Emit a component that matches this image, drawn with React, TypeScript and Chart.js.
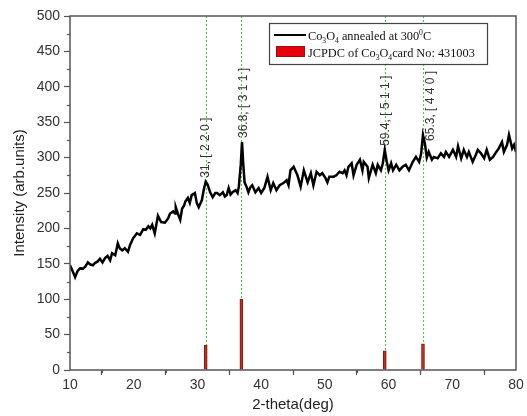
import React, { useEffect, useRef } from "react";
import { Chart, registerables } from "chart.js";

Chart.register(...registerables);

const twoTheta = [
  10.0, 10.4, 10.8, 11.2, 11.6, 12.0, 12.4, 12.8, 13.2, 13.6, 13.9, 14.3, 14.7, 15.1, 15.5, 15.9, 16.3, 16.6, 17.1, 17.5,
  17.8, 18.2, 18.6, 19.1, 19.4, 19.9, 20.5, 21.0, 21.5, 21.9, 22.3, 22.6, 22.9, 23.3, 23.8, 24.3, 24.9, 25.4, 25.7, 26.2,
  26.5, 26.6, 27.0, 27.3, 27.6, 27.9, 28.1, 28.5, 28.8, 29.1, 29.6, 29.9, 30.2, 30.7, 31.0, 31.3, 31.6, 32.0, 32.4, 32.8,
  33.1, 33.5, 34.0, 34.3, 34.6, 34.9, 35.2, 35.5, 36.0, 36.3, 36.5, 36.8, 37.0, 37.2, 37.4, 37.7, 38.0, 38.3, 38.6, 39.1,
  39.6, 40.0, 40.5, 41.0, 41.5, 41.9, 42.4, 42.9, 43.5, 44.0, 44.3, 44.6, 45.1, 45.7, 46.2, 46.7, 47.3, 47.8, 48.2, 48.7,
  49.2, 49.6, 50.1, 50.4, 50.7, 51.4, 51.8, 52.3, 52.8, 53.1, 53.4, 53.7, 54.2, 54.5, 55.0, 55.5, 55.9, 56.1, 56.7, 56.9,
  57.5, 58.0, 58.3, 58.8, 59.1, 59.4, 59.7, 60.0, 60.4, 60.7, 61.2, 61.7, 62.2, 62.7, 63.2, 63.8, 64.3, 64.8, 65.1, 65.4,
  65.7, 66.0, 66.3, 66.8, 67.1, 67.7, 68.2, 68.7, 69.0, 69.5, 70.1, 70.6, 70.9, 71.4, 71.8, 72.3, 72.6, 73.2, 73.7, 74.0,
  74.5, 75.0, 75.4, 75.9, 76.4, 76.9, 77.3, 77.8, 78.1, 78.6, 78.9, 79.4, 79.7, 80.0,
];

const intensity = [
  148, 140, 131, 140, 144, 143, 146, 152, 149, 148, 151, 153, 157, 152, 158, 161, 155, 165, 162, 179,
  172, 169, 172, 167, 176, 186, 193, 191, 199, 198, 203, 200, 205, 193, 218, 209, 208, 214, 221, 224,
  221, 230, 219, 212, 228, 232, 238, 243, 236, 247, 250, 236, 230, 240, 255, 266, 262, 251, 244, 250,
  250, 247, 251, 245, 247, 257, 248, 251, 254, 250, 259, 290, 322, 290, 265, 259, 251, 258, 261, 251,
  257, 250, 257, 273, 254, 264, 254, 261, 264, 268, 261, 282, 287, 275, 259, 282, 265, 278, 261, 280,
  275, 278, 271, 265, 273, 273, 275, 280, 278, 282, 275, 287, 292, 275, 290, 297, 282, 294, 287, 271,
  290, 278, 290, 282, 292, 311, 295, 282, 292, 282, 290, 282, 287, 290, 282, 294, 301, 294, 305, 332,
  320, 300, 308, 297, 301, 299, 306, 301, 308, 301, 311, 301, 316, 299, 311, 301, 308, 294, 304, 311,
  306, 299, 311, 297, 301, 308, 313, 322, 308, 318, 332, 313, 318, 308,
];

const stickPositions = [31.3, 36.9, 59.4, 65.4];
const stickHeights = [35, 100, 27, 37];
const peakLabels = ["31, [ 2 2 0 ]", "36.8, [ 3 1 1 ]", "59.4, [ 5 1 1 ]", "65.3, [ 4 4 0 ]"];

const legendCurve = [
  { t: "Co" }, { t: "3", sub: true }, { t: "O" }, { t: "4", sub: true }, { t: " annealed at 300" }, { t: "0", sup: true }, { t: "C" },
];
const legendSticks = [
  { t: "JCPDC of Co" }, { t: "3", sub: true }, { t: "O" }, { t: "4", sub: true }, { t: "card No: 431003" },
];

const xTitle = "2-theta(deg)";
const yTitle = "Intensity (arb.units)";

const FONT = "'Liberation Sans', Arial, sans-serif";
const SERIF = "'Liberation Serif', 'Times New Roman', serif";

function drawRich(ctx: CanvasRenderingContext2D, parts: any[], x: number, y: number, size: number) {
  let cx = x;
  for (const p of parts) {
    const s = p.sub || p.sup ? size * 0.62 : size;
    ctx.font = `${s}px ${SERIF}`;
    const dy = p.sub ? size * 0.22 : p.sup ? -size * 0.38 : 0;
    ctx.fillText(p.t, cx, y + dy);
    cx += ctx.measureText(p.t).width;
  }
}

const overlay = {
  id: "overlay",
  beforeDatasetsDraw(chart: any) {
    const { ctx, scales, chartArea } = chart;
    const xs = scales.x;
    ctx.save();
    ctx.strokeStyle = "#55c055";
    ctx.lineWidth = 1.2;
    ctx.setLineDash([2, 2]);
    for (const p of stickPositions) {
      const px = Math.round(xs.getPixelForValue(p)) + 0.5;
      ctx.beginPath();
      ctx.moveTo(px, chartArea.bottom);
      ctx.lineTo(px, chartArea.top);
      ctx.stroke();
    }
    ctx.restore();
  },
  afterDatasetsDraw(chart: any) {
    const { ctx, scales, chartArea } = chart;
    const xs = scales.x;
    const ys = scales.y;
    ctx.save();
    // frame
    ctx.strokeStyle = "#555";
    ctx.lineWidth = 1.5;
    ctx.strokeRect(chartArea.left, chartArea.top, chartArea.right - chartArea.left, chartArea.bottom - chartArea.top);
    // minor ticks
    ctx.lineWidth = 1.2;
    const yt = ys.ticks.map((t: any) => t.value);
    for (let i = 0; i < yt.length - 1; i++) {
      const py = Math.round(ys.getPixelForValue((yt[i] + yt[i + 1]) / 2)) + 0.5;
      ctx.beginPath();
      ctx.moveTo(chartArea.left, py);
      ctx.lineTo(chartArea.left - 3, py);
      ctx.stroke();
    }
    const xt = xs.ticks.map((t: any) => t.value);
    for (let i = 0; i < xt.length - 1; i++) {
      const px = Math.round(xs.getPixelForValue((xt[i] + xt[i + 1]) / 2)) + 0.5;
      ctx.beginPath();
      ctx.moveTo(px, chartArea.bottom);
      ctx.lineTo(px, chartArea.bottom + 3);
      ctx.stroke();
    }
    // peak labels
    const dxs = [0, 2, 1, 8];
    const dys = [-4, -4, -4, 6];
    ctx.fillStyle = "#333";
    ctx.font = `12px ${FONT}`;
    stickPositions.forEach((p, i) => {
      let peak = 0;
      twoTheta.forEach((t, j) => {
        if (Math.abs(t - p) <= 0.5 && intensity[j] > peak) peak = intensity[j];
      });
      const px = xs.getPixelForValue(p) + dxs[i];
      const py = ys.getPixelForValue(peak) + dys[i];
      ctx.save();
      ctx.translate(px, py);
      ctx.rotate(-Math.PI / 2);
      ctx.textAlign = "left";
      ctx.textBaseline = "middle";
      ctx.fillText(peakLabels[i], 0, 0);
      ctx.restore();
    });
    // legend
    const lx = 269, ly = 23, lw = 218, lh = 41;
    ctx.fillStyle = "#fff";
    ctx.fillRect(lx, ly, lw, lh);
    ctx.strokeStyle = "#444";
    ctx.lineWidth = 1.2;
    ctx.strokeRect(lx + 0.5, ly + 0.5, lw, lh);
    ctx.strokeStyle = "#000";
    ctx.lineWidth = 2;
    ctx.beginPath();
    ctx.moveTo(274, 35);
    ctx.lineTo(306, 35);
    ctx.stroke();
    ctx.fillStyle = "#e8000b";
    ctx.fillRect(276, 46, 29, 11);
    ctx.strokeStyle = "#9a1010";
    ctx.lineWidth = 1;
    ctx.strokeRect(276.5, 46.5, 28, 10);
    ctx.fillStyle = "#111";
    ctx.textBaseline = "alphabetic";
    ctx.textAlign = "left";
    drawRich(ctx, legendCurve, 308, 40, 12.3);
    drawRich(ctx, legendSticks, 308, 57, 12.3);
    ctx.restore();
  },
};

export default function App() {
  const ref = useRef<HTMLCanvasElement>(null);
  useEffect(() => {
    if (!ref.current) return;
    const chart = new Chart(ref.current, {
      type: "line",
      data: {
        datasets: [
          {
            type: "bar",
            data: stickPositions.map((x, i) => ({ x, y: stickHeights[i] })),
            backgroundColor: "#cc2a1a",
            borderColor: "#7d1c12",
            borderWidth: 1,
            barThickness: 3,
            order: 2,
          } as any,
          {
            type: "line",
            data: twoTheta.map((x, i) => ({ x, y: intensity[i] })),
            borderColor: "#000",
            borderWidth: 2.5,
            pointRadius: 0,
            tension: 0,
            fill: false,
            order: 1,
          },
        ],
      },
      options: {
        animation: false,
        responsive: true,
        maintainAspectRatio: false,
        layout: { padding: { top: 16, right: 11, left: 0, bottom: 0 } },
        plugins: { legend: { display: false }, tooltip: { enabled: false } },
        scales: {
          x: {
            type: "linear",
            min: 10,
            max: 80,
            offset: false,
            ticks: { stepSize: 10, color: "#333", font: { family: FONT, size: 14 }, padding: 2, maxRotation: 0 },
            grid: { display: true, drawOnChartArea: false, drawTicks: true, tickLength: 5, color: "#555", tickWidth: 1.2 },
            border: { display: false },
            title: { display: true, text: xTitle, color: "#222", font: { family: FONT, size: 15 }, padding: { top: 0, bottom: 2 } },
            afterFit: (s: any) => { s.height = 46; },
          },
          y: {
            min: 0,
            max: 500,
            ticks: { stepSize: 50, color: "#333", font: { family: FONT, size: 14 }, padding: 4 },
            grid: { display: true, drawOnChartArea: false, drawTicks: true, tickLength: 6, color: "#555", tickWidth: 1.2 },
            border: { display: false },
            title: { display: true, text: yTitle, color: "#222", font: { family: FONT, size: 15 }, padding: { top: 11, bottom: 0 } },
            afterFit: (s: any) => { s.width = 70; },
          },
        },
      },
      plugins: [overlay],
    });
    return () => chart.destroy();
  }, []);
  return (
    <div style={{ position: "absolute", left: 0, top: 0, width: 527, height: 416, background: "#fff" }}>
      <canvas ref={ref} />
    </div>
  );
}
